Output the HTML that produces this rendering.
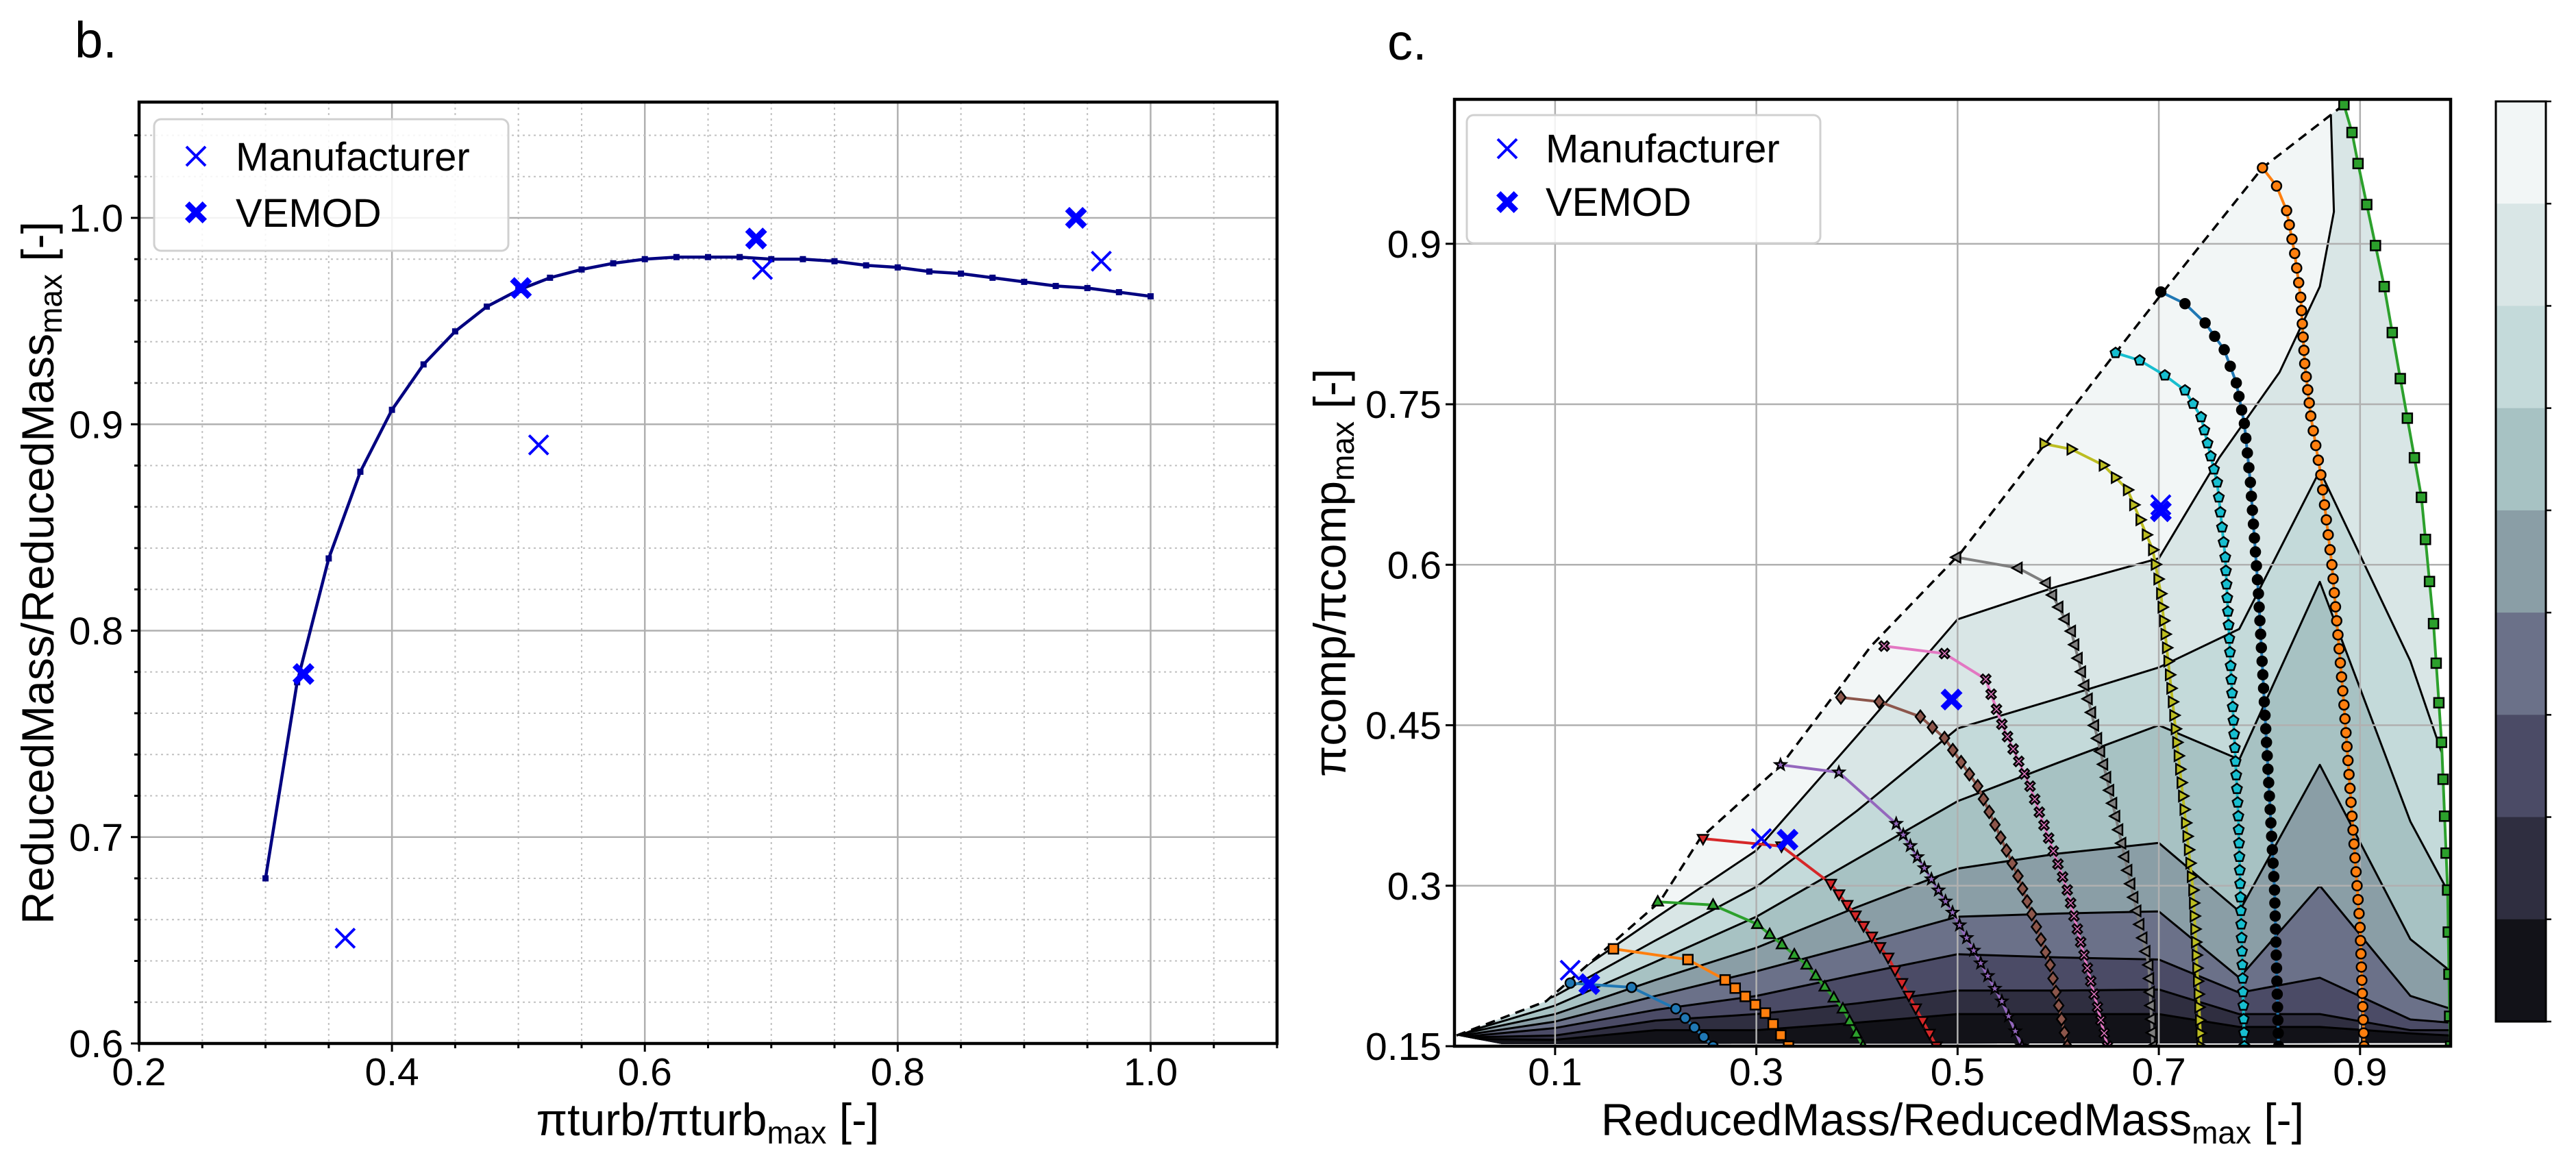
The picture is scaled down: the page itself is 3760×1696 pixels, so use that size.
<!DOCTYPE html>
<html><head><meta charset="utf-8"><style>
html,body{margin:0;padding:0;background:#fff;}
svg{display:block;font-family:"Liberation Sans","DejaVu Sans",sans-serif;}
</style></head><body>
<svg id="fig" width="3760" height="1696" viewBox="0 0 3760 1696" xmlns="http://www.w3.org/2000/svg">
<rect width="3760" height="1696" fill="#fff"/>
<g id="left"></g>
<g id="right"></g>
</svg>
<script>
// ---------- Panel b data ----------
const curveX = [0.300,0.325,0.350,0.375,0.400,0.425,0.450,0.475,0.500,0.525,0.550,0.575,0.600,0.625,0.650,0.675,0.700,0.725,0.750,0.775,0.800,0.825,0.850,0.875,0.900,0.925,0.950,0.975,1.000];
const curveY = [0.680,0.775,0.835,0.877,0.907,0.929,0.945,0.957,0.965,0.971,0.975,0.978,0.980,0.981,0.981,0.981,0.980,0.980,0.979,0.977,0.976,0.974,0.973,0.971,0.969,0.967,0.966,0.964,0.962];
const manufBX = [0.363,0.516,0.693,0.961];
const manufBY = [0.651,0.890,0.975,0.979];
const vemodBX = [0.330,0.502,0.688,0.941];
const vemodBY = [0.779,0.966,0.990,1.000];
const bXTicks = [0.2,0.4,0.6,0.8,1.0];
const bXTickLabels = ["0.2","0.4","0.6","0.8","1.0"];
const bYTicks = [0.6,0.7,0.8,0.9,1.0];
const bYTickLabels = ["0.6","0.7","0.8","0.9","1.0"];

// ---------- Panel c data ----------
const surgeX = [0.002,0.091,0.204,0.244,0.325,0.414,0.503,0.657,0.706,0.803,0.884];
const surgeY = [0.160,0.192,0.285,0.344,0.413,0.524,0.611,0.798,0.857,0.971,1.030];
const cXTicks = [0.1,0.3,0.5,0.7,0.9];
const cXTickLabels = ["0.1","0.3","0.5","0.7","0.9"];
const cYTicks = [0.15,0.3,0.45,0.6,0.75,0.9];
const cYTickLabels = ["0.15","0.3","0.45","0.6","0.75","0.9"];
const bandColors = ["#f2f6f6","#d9e6e6","#c4dada","#a7c2c3","#8a9ea6","#6b7189","#4b4b66","#2f2e40","#121218"];
const contourColX = [0,0.1,0.2,0.3,0.4,0.5,0.6,0.7,0.78,0.86,0.95,0.99];
const contour1X = [0,0.1,0.2,0.3,0.4,0.5,0.6,0.7,0.76,0.82,0.86,0.874,0.87];
const contour1Y = [0.16,0.205,0.27,0.333,0.44,0.549,0.58,0.606,0.70,0.78,0.86,0.93,1.05];
const contour2Y = [0.16,0.197,0.249,0.299,0.37,0.447,0.475,0.504,0.54,0.688,0.51,0.40];
const contour3Y = [0.16,0.188,0.229,0.271,0.325,0.379,0.415,0.45,0.418,0.584,0.36,0.29];
const contour4Y = [0.16,0.18,0.212,0.242,0.28,0.316,0.33,0.34,0.276,0.413,0.25,0.22];
const contour5Y = [0.159,0.173,0.197,0.22,0.245,0.271,0.274,0.276,0.214,0.30,0.197,0.185];
const contour6Y = [0.158,0.167,0.184,0.197,0.217,0.236,0.233,0.231,0.2,0.214,0.175,0.172];
const contour7Y = [0.158,0.16,0.174,0.18,0.19,0.202,0.202,0.203,0.18,0.18,0.165,0.165];
const contour8Y = [0.157,0.156,0.165,0.165,0.172,0.18,0.18,0.18,0.168,0.168,0.162,0.16];

const sp1X=[0.115,0.176,0.22,0.257], sp1Y=[0.209,0.205,0.185,0.15];
const sp2X=[0.158,0.232,0.269,0.309,0.332], sp2Y=[0.241,0.231,0.212,0.181,0.15];
const sp3X=[0.202,0.257,0.301,0.35,0.386,0.406], sp3Y=[0.285,0.282,0.264,0.226,0.185,0.15];
const sp4X=[0.247,0.325,0.374,0.431,0.479], sp4Y=[0.344,0.337,0.302,0.233,0.15];
const sp5X=[0.324,0.382,0.439,0.495,0.544,0.564], sp5Y=[0.413,0.406,0.358,0.275,0.192,0.15];
const sp6X=[0.384,0.422,0.463,0.487,0.52,0.56,0.592,0.609], sp6Y=[0.476,0.472,0.458,0.438,0.393,0.309,0.226,0.15];
const sp7X=[0.427,0.487,0.528,0.544,0.572,0.609,0.649], sp7Y=[0.524,0.517,0.493,0.451,0.393,0.296,0.15];
const sp8X=[0.499,0.56,0.588,0.613,0.633,0.657,0.69,0.694], sp8Y=[0.607,0.597,0.583,0.538,0.462,0.365,0.226,0.15];
const sp9X=[0.586,0.613,0.645,0.669,0.694,0.702,0.718,0.734,0.742], sp9Y=[0.713,0.708,0.693,0.67,0.614,0.573,0.434,0.296,0.15];
const sp10X=[0.657,0.681,0.706,0.726,0.742,0.758,0.766,0.77,0.779,0.783,0.785], sp10Y=[0.798,0.791,0.777,0.763,0.738,0.677,0.607,0.531,0.365,0.226,0.15];
const sp11X=[0.702,0.726,0.746,0.765,0.777,0.785,0.791,0.799,0.807,0.815,0.819], sp11Y=[0.855,0.844,0.826,0.801,0.77,0.732,0.677,0.573,0.434,0.296,0.15];
const sp12X=[0.803,0.817,0.827,0.835,0.841,0.845,0.851,0.861,0.872,0.884,0.892,0.9,0.904], sp12Y=[0.971,0.954,0.931,0.891,0.85,0.788,0.739,0.684,0.6,0.469,0.365,0.261,0.15];
const sp13X=[0.884,0.892,0.898,0.924,0.94,0.961,0.973,0.981,0.987,0.989,0.99], sp13Y=[1.03,1.004,0.975,0.86,0.774,0.663,0.545,0.434,0.296,0.178,0.15];

const manufCX=[0.115,0.305,0.702], manufCY=[0.221,0.344,0.656];
const vemodCX=[0.134,0.331,0.494,0.702], vemodCY=[0.208,0.343,0.474,0.650];

// ---------- helpers ----------
const NS="http://www.w3.org/2000/svg";
function el(tag, attrs, parent){const e=document.createElementNS(NS,tag);for(const k in attrs)e.setAttribute(k,attrs[k]);if(parent)parent.appendChild(e);return e;}
function lin(d0,d1,p0,p1){return v=>p0+(v-d0)/(d1-d0)*(p1-p0);}

const L=document.getElementById('left'), R=document.getElementById('right');
const BTOP=149;
const bx=lin(0.2,1.1,203,1864), by=lin(0.6,1.0,1523,318);
const cx=lin(0,0.99,2123,3577), cy=lin(0.15,1.035,1527,145);

function xMark(g,x,y,s){return el('path',{d:`M${x-s},${y-s}L${x+s},${y+s}M${x-s},${y+s}L${x+s},${y-s}`,stroke:'#0000ff','stroke-width':4,fill:'none'},g);}
function bigX(g,x,y,s){const a=s, b=s*0.4;
 const d=`M${x-a},${y-a+b}L${x-a+b},${y-a}L${x},${y-b}L${x+a-b},${y-a}L${x+a},${y-a+b}L${x+b},${y}L${x+a},${y+a-b}L${x+a-b},${y+a}L${x},${y+b}L${x-a+b},${y+a}L${x-a},${y+a-b}L${x-b},${y}Z`;
 return el('path',{d:d,fill:'#0000ff'},g);}

// ---------- Panel b ----------
(function(){
 const t=el('text',{x:109,y:84,'font-size':74,fill:'#000'},L);t.textContent='b.';
 
 
 const grid=el('g',{},L);
 
 
 for(let i=0;i<=18;i++){const v=0.2+i*0.05;const X=bx(v);
  const major=Math.abs((v*10)-Math.round(v*10))<1e-6 && Math.round(v*10)%2===0;
  el('line',{x1:X,y1:BTOP,x2:X,y2:1523,stroke:major?'#b0b0b0':'#c0c0c0','stroke-width':major?2.5:2,'stroke-dasharray':major?'':'3 5'},grid);
  el('line',{x1:X,y1:1523,x2:X,y2:1523+(major?12:7),stroke:'#000','stroke-width':3},L);}
 for(let i=0;i<=22;i++){const v=0.6+i*0.02;const Y=by(v);if(Y<BTOP)continue;
  const major=i%5===0;
  el('line',{x1:203,y1:Y,x2:1864,y2:Y,stroke:major?'#b0b0b0':'#c0c0c0','stroke-width':major?2.5:2,'stroke-dasharray':major?'':'3 5'},grid);
  el('line',{x1:203,y1:Y,x2:203-(major?12:7),y2:Y,stroke:'#000','stroke-width':3},L);}
 bXTicks.forEach((v,i)=>{const tx=el('text',{x:bx(v),y:1584,'font-size':57,'text-anchor':'middle'},L);tx.textContent=bXTickLabels[i];
  
  });
 bYTicks.forEach((v,i)=>{const tx=el('text',{x:180,y:by(v)+20,'font-size':57,'text-anchor':'end'},L);tx.textContent=bYTickLabels[i];
  
  });
 const pts=curveX.map((v,i)=>bx(v)+','+by(curveY[i])).join(' ');
 const pl=el('polyline',{points:pts,fill:'none',stroke:'#000080','stroke-width':4.5},L);
 
 
 curveX.forEach((v,i)=>{const r=el('rect',{x:bx(v)-4.5,y:by(curveY[i])-4.5,width:9,height:9,fill:'#000080'},L);
  
  });
 manufBX.forEach((v,i)=>{const m=xMark(L,bx(v),by(manufBY[i]),14);
  
  });
 vemodBX.forEach((v,i)=>{const m=bigX(L,bx(v),by(vemodBY[i]),16);
  
  });
 el('rect',{x:203,y:BTOP,width:1661,height:1523-BTOP,fill:'none',stroke:'#000','stroke-width':4.5},L);
 const lg=el('g',{},L);
 
 
 el('rect',{x:225,y:174,width:517,height:192,rx:10,fill:'#fff','fill-opacity':0.85,stroke:'#d0d0d0','stroke-width':3},lg);
 xMark(lg,286,228,14);bigX(lg,286,310,16);
 const t1=el('text',{x:344,y:249,'font-size':58},lg);t1.textContent='Manufacturer';
 
 
 const t2=el('text',{x:344,y:331,'font-size':58},lg);t2.textContent='VEMOD';
 
 
 const xl=el('text',{x:1033,y:1657,'font-size':66,'text-anchor':'middle'},L);
 xl.innerHTML='πturb/πturb<tspan font-size="46" dy="12">max</tspan><tspan dy="-12"> [-]</tspan>';
 
 
 const yl=el('text',{x:0,y:0,'font-size':66,'text-anchor':'middle',transform:'translate(78,836) rotate(-90)'},L);
 yl.innerHTML='ReducedMass/ReducedMass<tspan font-size="46" dy="12">max</tspan><tspan dy="-12"> [-]</tspan>';
 
 
})();

// ---------- Panel c ----------
(function(){
 const t=el('text',{x:2025,y:87,'font-size':74},R);t.textContent='c.';
 
 
 const defs=el('defs',{},R);
 const cp=el('clipPath',{id:'regionClip'},defs);
 let d='M'+surgeX.map((v,i)=>cx(v)+','+cy(surgeY[i])).join('L');
 d+='L'+sp13X.map((v,i)=>cx(v)+','+cy(sp13Y[i])).join('L');
 d+=`L${cx(0.99)},${cy(0.153)}L${cx(0.047)},${cy(0.152)}Z`;
 el('path',{d:d},cp);
 const axClip=el('clipPath',{id:'axClip'},defs);
 el('rect',{x:2123,y:145,width:1454,height:1382},axClip);
 const fills=el('g',{'clip-path':'url(#regionClip)'},R);
 
 
 el('rect',{x:2100,y:100,width:1500,height:1450,fill:bandColors[0]},fills);
 const lines=[[contour1X,contour1Y],[contourColX,contour2Y],[contourColX,contour3Y],[contourColX,contour4Y],[contourColX,contour5Y],[contourColX,contour6Y],[contourColX,contour7Y],[contourColX,contour8Y]];
 const cl=el('g',{'clip-path':'url(#regionClip)'},R);
 
 
 lines.forEach((ln,k)=>{const xs=ln[0],ys=ln[1];
  const p=xs.map((v,i)=>cx(v)+','+cy(ys[i]));
  const last=ys[ys.length-1];
  const poly=p.join(' ')+` ${cx(1.0)},${cy(last)} ${cx(1.0)},${cy(0.14)} ${cx(0)},${cy(0.14)}`;
  const band=el('polygon',{points:poly,fill:bandColors[k+1]},fills);
  
  
  const cline=el('polyline',{points:p.join(' '),fill:'none',stroke:'#000','stroke-width':3,'stroke-linejoin':'round'},cl);
  
  
 });
 cXTicks.forEach((v,i)=>{el('line',{x1:cx(v),y1:145,x2:cx(v),y2:1527,stroke:'#b0b0b0','stroke-width':2.5},R);
  el('line',{x1:cx(v),y1:1527,x2:cx(v),y2:1540,stroke:'#000','stroke-width':3},R);
  const tx=el('text',{x:cx(v),y:1584,'font-size':57,'text-anchor':'middle'},R);tx.textContent=cXTickLabels[i];
  
  });
 cYTicks.forEach((v,i)=>{el('line',{x1:2123,y1:cy(v),x2:3577,y2:cy(v),stroke:'#b0b0b0','stroke-width':2.5},R);
  el('line',{x1:2110,y1:cy(v),x2:2123,y2:cy(v),stroke:'#000','stroke-width':3},R);
  const tx=el('text',{x:2104,y:cy(v)+20,'font-size':57,'text-anchor':'end'},R);tx.textContent=cYTickLabels[i];
  
  });
 const sg=el('polyline',{points:surgeX.map((v,i)=>cx(v)+','+cy(surgeY[i])).join(' '),fill:'none',stroke:'#000','stroke-width':3.5,'stroke-dasharray':'14 9'},R);
 
 
 const speed=[[sp1X,sp1Y,'#1f77b4','circle','#1f77b4'],[sp2X,sp2Y,'#ff7f0e','square','#ff7f0e'],[sp3X,sp3Y,'#2ca02c','tri-up','#2ca02c'],[sp4X,sp4Y,'#d62728','tri-down','#d62728'],[sp5X,sp5Y,'#9467bd','star','#9467bd'],[sp6X,sp6Y,'#8c564b','diamond','#8c564b'],[sp7X,sp7Y,'#e377c2','xfill','#e377c2'],[sp8X,sp8Y,'#7f7f7f','tri-left','#7f7f7f'],[sp9X,sp9Y,'#bcbd22','tri-right','#bcbd22'],[sp10X,sp10Y,'#17becf','pent','#17becf'],[sp11X,sp11Y,'#1f77b4','circle','#000'],[sp12X,sp12Y,'#ff7f0e','circle','#ff7f0e'],[sp13X,sp13Y,'#2ca02c','square','#2ca02c']];
 const sg2=el('g',{'clip-path':'url(#axClip)'},R);
 
 
 function marker(g,type,x,y,r,fc){let e;
  if(type==='circle')e=el('circle',{cx:x,cy:y,r:r},g);
  else if(type==='square')e=el('rect',{x:x-r,y:y-r,width:2*r,height:2*r},g);
  else{let pts;
   if(type==='tri-up')pts=[[0,-r*1.2],[r*1.1,r*0.8],[-r*1.1,r*0.8]];
   else if(type==='tri-down')pts=[[0,r*1.2],[r*1.1,-r*0.8],[-r*1.1,-r*0.8]];
   else if(type==='tri-left')pts=[[-r*1.2,0],[r*0.8,r*1.1],[r*0.8,-r*1.1]];
   else if(type==='tri-right')pts=[[r*1.2,0],[-r*0.8,r*1.1],[-r*0.8,-r*1.1]];
   else if(type==='diamond')pts=[[0,-r*1.3],[r*1.0,0],[0,r*1.3],[-r*1.0,0]];
   else if(type==='pent'){pts=[];for(let k=0;k<5;k++){const a=-Math.PI/2+k*2*Math.PI/5;pts.push([r*1.1*Math.cos(a),r*1.1*Math.sin(a)]);}}
   else if(type==='star'){pts=[];for(let k=0;k<10;k++){const a=-Math.PI/2+k*Math.PI/5;const rr=k%2?r*0.5:r*1.2;pts.push([rr*Math.cos(a),rr*Math.sin(a)]);}}
   else {const a=r,b=r*0.4;pts=[[-a,-a+b],[-a+b,-a],[0,-b],[a-b,-a],[a,-a+b],[b,0],[a,a-b],[a-b,a],[0,b],[-a+b,a],[-a,a-b],[-b,0]];}
   e=el('polygon',{points:pts.map(p=>(x+p[0])+','+(y+p[1])).join(' ')},g);}
  e.setAttribute('fill',fc);e.setAttribute('stroke','#000');e.setAttribute('stroke-width',2.5);return e;}
 speed.forEach((s,k)=>{const xs=s[0],ys=s[1];
  const P=xs.map((v,i)=>[cx(v),cy(ys[i])]);
  const line=el('polyline',{points:P.map(p=>p.join(',')).join(' '),fill:'none',stroke:s[2],'stroke-width':4},sg2);
  
  
  const mg=el('g',{},sg2);
  
  
  for(let i=0;i<P.length;i++){
   marker(mg,s[3],P[i][0],P[i][1],7,s[4]);
   if(i<P.length-1){const dx=P[i+1][0]-P[i][0],dy=P[i+1][1]-P[i][1];const len=Math.hypot(dx,dy);
    const spacing=(i<2&&k!==12)?60:(k===12?48:19);const n=Math.floor(len/spacing);
    for(let j=1;j<n;j++)marker(mg,s[3],P[i][0]+dx*j/n,P[i][1]+dy*j/n,7,s[4]);}
  }
 });
 manufCX.forEach((v,i)=>{const m=xMark(R,cx(v),cy(manufCY[i]),14);
  
  });
 vemodCX.forEach((v,i)=>{const m=bigX(R,cx(v),cy(vemodCY[i]),16);
  
  });
 el('rect',{x:2123,y:145,width:1454,height:1382,fill:'none',stroke:'#000','stroke-width':4.5},R);
 const lg=el('g',{},R);
 
 
 el('rect',{x:2141,y:168,width:516,height:187,rx:10,fill:'#fff','fill-opacity':0.85,stroke:'#d0d0d0','stroke-width':3},lg);
 xMark(lg,2200,217,14);bigX(lg,2200,295,16);
 const t1=el('text',{x:2256,y:237,'font-size':58},lg);t1.textContent='Manufacturer';
 
 
 const t2=el('text',{x:2256,y:315,'font-size':58},lg);t2.textContent='VEMOD';
 
 
 const xl=el('text',{x:2850,y:1657,'font-size':66,'text-anchor':'middle'},R);
 xl.innerHTML='ReducedMass/ReducedMass<tspan font-size="46" dy="12">max</tspan><tspan dy="-12"> [-]</tspan>';
 
 
 const yl=el('text',{x:0,y:0,'font-size':66,'text-anchor':'middle',transform:'translate(1964,836) rotate(-90)'},R);
 yl.innerHTML='πcomp/πcomp<tspan font-size="46" dy="12">max</tspan><tspan dy="-12"> [-]</tspan>';
 
 
 const cb=el('g',{},R);
 
 
 const top=148,bot=1491,h=(bot-top)/bandColors.length;
 bandColors.forEach((c,i)=>{const r=el('rect',{x:3643,y:top+i*h,width:73,height:h+0.5,fill:c},cb);
  
  
  el('line',{x1:3716,y1:top+i*h,x2:3724,y2:top+i*h,stroke:'#000','stroke-width':2.5},cb);});
 el('line',{x1:3716,y1:bot,x2:3724,y2:bot,stroke:'#000','stroke-width':2.5},cb);
 el('rect',{x:3643,y:top,width:73,height:bot-top,fill:'none',stroke:'#000','stroke-width':3},cb);
})();
</script>
</body></html>
